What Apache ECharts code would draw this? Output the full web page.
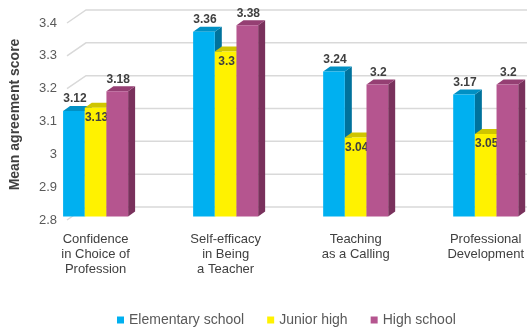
<!DOCTYPE html>
<html>
<head>
<meta charset="utf-8">
<style>
  html, body { margin: 0; padding: 0; background: #ffffff; }
  #chart { width: 527px; height: 331px; }
</style>
<script src="https://cdn.jsdelivr.net/npm/echarts@6/dist/echarts.min.js"></script>
</head>
<body>
<div id="chart"></div>
<script>
// ---- data ----
var categories = ['Confidence\nin Choice of\nProfession', 'Self-efficacy\nin Being\na Teacher', 'Teaching\nas a Calling', 'Professional\nDevelopment'];
var seriesNames = ['Elementary school', 'Junior high', 'High school'];
var elementary = [3.12, 3.36, 3.24, 3.17];
var juniorHigh = [3.13, 3.30, 3.04, 3.05];
var highSchool = [3.18, 3.38, 3.20, 3.20];
var yTicks = [2.8, 2.9, 3.0, 3.1, 3.2, 3.3, 3.4];

// ---- style ----
var FONT = '"Liberation Sans", Arial, sans-serif';
var palettes = [
  { front: '#00b0f0', side: '#00729c', top: '#0090c4' },
  { front: '#fff200', side: '#bdb400', top: '#cfc500' },
  { front: '#b5558f', side: '#79315c', top: '#953f73' }
];
var DEPTH_X = 7, DEPTH_Y = 5;
var BACK_X = 19, BACK_Y = 13;

function barRenderer(slot) {
  var pal = palettes[slot];
  return function (params, api) {
    var ci = api.value(0), v = api.value(1);
    var top = api.coord([ci, v]);
    var base = api.coord([ci, yTicks[0]]);
    var p0 = api.coord([0, v]), p1 = api.coord([1, v]);
    var band = p1[0] - p0[0];
    var w = band / 6;
    var x = top[0] - 1.5 * w + slot * w;
    var yT = top[1], yB = base[1];
    var children = [
      { type: 'polygon', shape: { points: [[x + w, yT], [x + w + DEPTH_X, yT - DEPTH_Y], [x + w + DEPTH_X, yB - DEPTH_Y], [x + w, yB]] }, style: { fill: pal.side } },
      { type: 'polygon', shape: { points: [[x, yT], [x + DEPTH_X, yT - DEPTH_Y], [x + w + DEPTH_X, yT - DEPTH_Y], [x + w, yT]] }, style: { fill: pal.top } },
      { type: 'rect', shape: { x: x, y: yT, width: w, height: yB - yT }, style: { fill: pal.front } }
    ];
    var inside = slot === 1;
    children.push({
      type: 'text',
      z2: 10,
      style: {
        text: String(v),
        x: x + w / 2 + 1,
        y: inside ? yT + 10 : yT - 12,
        align: 'center',
        verticalAlign: 'middle',
        fill: '#404040',
        font: 'bold 12px ' + FONT
      }
    });
    return { type: 'group', children: children };
  };
}

function toPairs(arr) { return arr.map(function (v, i) { return [i, v]; }); }

var chart = echarts.init(document.getElementById('chart'), null, { renderer: 'canvas' });
chart.setOption({
  animation: false,
  textStyle: { fontFamily: FONT },
  grid: [
    { left: 58, right: 0, top: 23, bottom: 111 },
    { left: 95.6, right: 40, top: 18.6, bottom: 114.4 }
  ],
  xAxis: [
    { gridIndex: 0, type: 'value', min: 0, max: 1, show: false },
    {
      gridIndex: 1, type: 'category', data: categories, boundaryGap: false,
      axisLine: { show: false }, axisTick: { show: false }, splitLine: { show: false },
      axisLabel: { color: '#404040', fontSize: 13, lineHeight: 15, margin: 15, fontFamily: FONT, interval: 0 }
    }
  ],
  yAxis: [
    {
      gridIndex: 0, type: 'value', min: yTicks[0], max: yTicks[yTicks.length - 1], interval: 0.1,
      axisLine: { show: false }, axisTick: { show: false }, splitLine: { show: false },
      axisLabel: { color: '#595959', fontSize: 13, margin: 10, fontFamily: FONT, formatter: function (v) { return String(Math.round(v * 10) / 10); } },
      name: 'Mean agreement score', nameLocation: 'middle', nameRotate: 90, nameGap: 45,
      nameTextStyle: { color: '#404040', fontSize: 14, fontWeight: 'bold', fontFamily: FONT, padding: [0, 0, 0, 14] }
    },
    { gridIndex: 1, type: 'value', min: yTicks[0], max: yTicks[yTicks.length - 1], show: false }
  ],
  legend: {
    data: seriesNames,
    left: 117, top: 313,
    icon: 'rect', itemWidth: 7, itemHeight: 7, itemGap: 23,
    padding: 0,
    textStyle: { color: '#595959', fontSize: 14, fontFamily: FONT }
  },
  series: [
    {
      type: 'custom', name: 'grid', xAxisIndex: 0, yAxisIndex: 0, z: 1, silent: true,
      data: yTicks.map(function (v) { return [0, v]; }),
      renderItem: function (params, api) {
        var p0 = api.coord([0, api.value(1)]);
        var p1 = api.coord([1, api.value(1)]);
        return {
          type: 'polyline',
          shape: { points: [[p0[0], p0[1]], [p0[0] + BACK_X, p0[1] - BACK_Y], [p1[0], p0[1] - BACK_Y]] },
          style: { stroke: '#d9d9d9', lineWidth: 1.5, fill: null }
        };
      }
    },
    { type: 'custom', name: seriesNames[0], xAxisIndex: 1, yAxisIndex: 1, z: 2, clip: false, itemStyle: { color: palettes[0].front }, data: toPairs(elementary), renderItem: barRenderer(0) },
    { type: 'custom', name: seriesNames[1], xAxisIndex: 1, yAxisIndex: 1, z: 3, clip: false, itemStyle: { color: palettes[1].front }, data: toPairs(juniorHigh), renderItem: barRenderer(1) },
    { type: 'custom', name: seriesNames[2], xAxisIndex: 1, yAxisIndex: 1, z: 4, clip: false, itemStyle: { color: palettes[2].front }, data: toPairs(highSchool), renderItem: barRenderer(2) }
  ]
});
</script>
</body>
</html>
